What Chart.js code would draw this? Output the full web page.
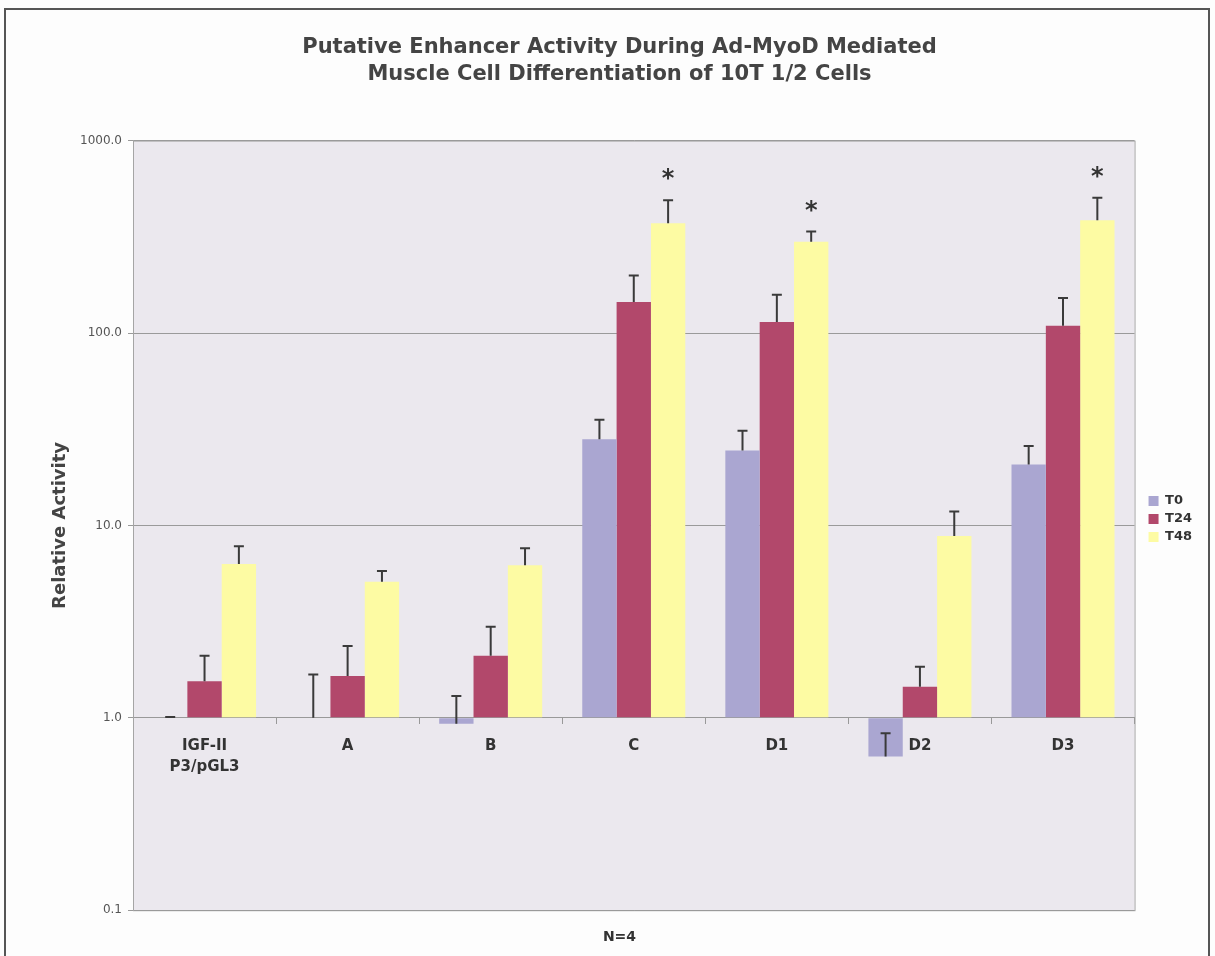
<!DOCTYPE html>
<html>
<head>
<meta charset="utf-8">
<script src="https://cdn.jsdelivr.net/npm/chart.js@4.4.0/dist/chart.umd.min.js"></script>
<style>
  html, body { margin: 0; padding: 0; background: #fdfdfd; }
  #wrap { width: 1215px; height: 956px; position: relative; }
</style>
</head>
<body>
<div id="wrap"><canvas id="chart"></canvas></div>
<script>
// data
const categories = [['IGF-II', 'P3/pGL3'], 'A', 'B', 'C', 'D1', 'D2', 'D3'];
const seriesNames = ['T0', 'T24', 'T48'];
const t0Values  = [1.0, 1.0, 0.93, 28, 24.5, 0.63, 20.7];
const t24Values = [1.55, 1.65, 2.1, 145, 114, 1.45, 109];
const t48Values = [6.3, 5.1, 6.2, 372, 298, 8.8, 385];
// upper error (added to the value)
const t0Errors  = [0.01, 0.68, 0.37, 7.4, 6.5, 0.2, 5.2];
const t24Errors = [0.55, 0.71, 0.87, 54, 44, 0.39, 43];
const t48Errors = [1.5, 0.7, 1.4, 118, 39, 3.0, 120];
const significant = [false, false, false, true, true, false, true];
const yTicks = [0.1, 1, 10, 100, 1000];

const colors = ['#aaa6d1', '#b2486b', '#fdfba3'];
const allErrors = [t0Errors, t24Errors, t48Errors];

Chart.defaults.font.family = 'DejaVu Sans';

// plot background + outer frame
const backdrop = {
    id: 'backdrop',
    beforeDraw(chart) {
        const ctx = chart.ctx;
        const a = chart.chartArea;
        ctx.save();
        ctx.strokeStyle = '#555';
        ctx.lineWidth = 2;
        ctx.strokeRect(5, 9, 1204, 960);
        ctx.fillStyle = '#ebe8ee';
        ctx.fillRect(a.left, a.top, a.right - a.left, a.bottom - a.top);
        ctx.strokeStyle = '#a5a5a5';
        ctx.lineWidth = 1;
        ctx.strokeRect(a.left + 0.5, a.top + 0.5, a.right - a.left, a.bottom - a.top);
        ctx.restore();
    }
};

// nudge the legend a bit right and down, like the original
const legendNudge = {
    id: 'legendNudge',
    afterLayout(chart) {
        const lg = chart.legend;
        lg.left += 9; lg.right += 9;
        lg.top += 34; lg.bottom += 34;
    }
};

// error bars (upper only) and the asterisks
const errorBars = {
    id: 'errorBars',
    afterDatasetsDraw(chart) {
        const ctx = chart.ctx;
        const y = chart.scales.y;
        ctx.save();
        ctx.strokeStyle = '#3a3a3a';
        ctx.lineWidth = 2;
        chart.data.datasets.forEach((ds, i) => {
            const meta = chart.getDatasetMeta(i);
            meta.data.forEach((bar, j) => {
                const v = ds.data[j];
                const top = y.getPixelForValue(v + allErrors[i][j]);
                const y0 = y.getPixelForValue(v);
                ctx.beginPath();
                ctx.moveTo(bar.x, y0);
                ctx.lineTo(bar.x, top);
                ctx.moveTo(bar.x - 5, top);
                ctx.lineTo(bar.x + 5, top);
                ctx.stroke();
                if (i === 2 && significant[j]) {
                    ctx.fillStyle = '#333';
                    ctx.font = 'bold 24px DejaVu Sans';
                    ctx.textAlign = 'center';
                    ctx.textBaseline = 'middle';
                    ctx.fillText('*', bar.x, top - 20);
                }
            });
        });
        ctx.restore();
    }
};

new Chart(document.getElementById('chart'), {
    type: 'bar',
    data: {
        labels: categories,
        datasets: [
            { label: seriesNames[0], data: t0Values, backgroundColor: colors[0] },
            { label: seriesNames[1], data: t24Values, backgroundColor: colors[1] },
            { label: seriesNames[2], data: t48Values, backgroundColor: colors[2] }
        ]
    },
    options: {
        responsive: true,
        maintainAspectRatio: false,
        animation: false,
        datasets: {
            bar: { base: 1, categoryPercentage: 0.72, barPercentage: 1.0, borderWidth: 0 }
        },
        layout: { padding: { left: 46, right: 22, top: 14, bottom: 0 } },
        scales: {
            x: {
                type: 'category',
                position: { y: 1 },
                offset: true,
                grid: { display: true, drawOnChartArea: false, offset: true, tickLength: 6, color: '#999' },
                border: { display: true, color: '#999' },
                ticks: { font: { size: 15, weight: 'bold', lineHeight: 1.45 }, color: '#333', padding: 11 }
            },
            y: {
                type: 'logarithmic',
                min: 0.1,
                max: 1000,
                afterBuildTicks: s => { s.ticks = yTicks.map(v => ({ value: v })); },
                afterFit: s => { s.width = 87; },
                ticks: {
                    callback: v => Number(v).toFixed(1),
                    font: { size: 12 },
                    color: '#555',
                    padding: 6
                },
                grid: { color: '#9a9a9a', tickLength: 5 },
                border: { display: true, color: '#a5a5a5' },
                title: {
                    display: true,
                    text: 'Relative Activity',
                    font: { size: 18, weight: 'bold' },
                    color: '#444'
                }
            }
        },
        plugins: {
            title: {
                display: true,
                text: ['Putative Enhancer Activity During Ad-MyoD Mediated', 'Muscle Cell Differentiation of 10T 1/2 Cells'],
                font: { size: 21, weight: 'bold', lineHeight: 1.3 },
                color: '#444',
                padding: { top: 20, bottom: 52 }
            },
            subtitle: {
                display: true,
                position: 'bottom',
                text: 'N=4',
                font: { size: 14, weight: 'bold' },
                color: '#333',
                padding: { top: 19, bottom: 10 }
            },
            legend: {
                position: 'right',
                labels: {
                    boxWidth: 10,
                    boxHeight: 10,
                    padding: 5,
                    font: { size: 13, weight: 'bold' },
                    color: '#333'
                }
            },
            tooltip: { enabled: false }
        }
    },
    plugins: [backdrop, legendNudge, errorBars]
});
</script>
</body>
</html>
